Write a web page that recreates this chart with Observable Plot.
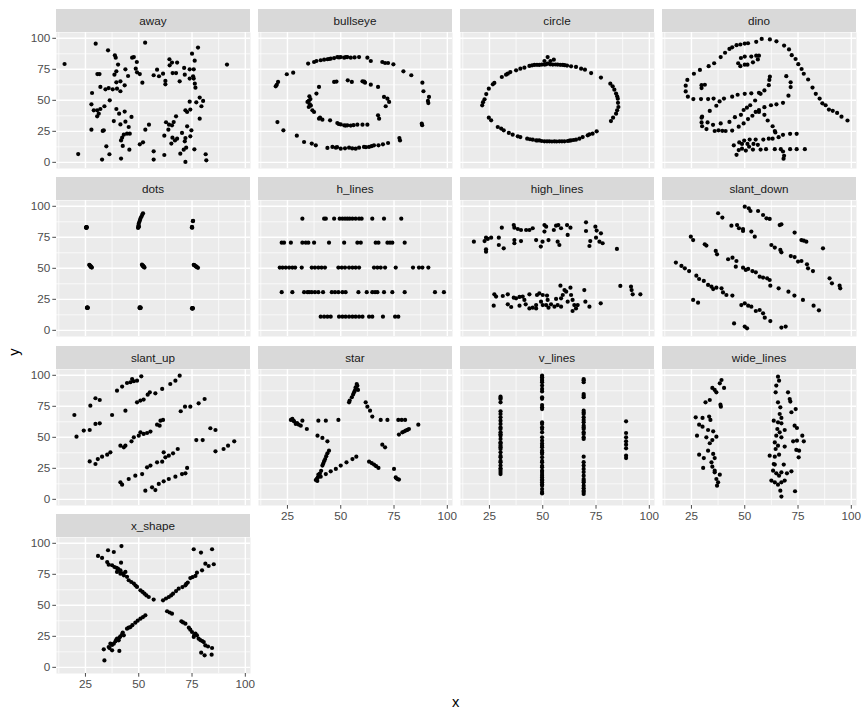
<!DOCTYPE html>
<html><head><meta charset="utf-8">
<script src="https://cdn.jsdelivr.net/npm/d3@7"></script>
<script src="https://cdn.jsdelivr.net/npm/@observablehq/plot@0.6"></script>
<style>
body{margin:0;background:#fff;font-family:"Liberation Sans",Arial,sans-serif;}
#chart{position:relative;width:864px;height:720px;background:#fff;}
.strip{position:absolute;background:#D9D9D9;color:#1A1A1A;font-size:11.7px;display:flex;align-items:center;justify-content:center;}
.panel{position:absolute;}
.title{position:absolute;font-size:14.7px;color:#000;}
</style></head><body><div id="chart"></div>
<script>
const datasetNames = ["away","bullseye","circle","dino","dots","h_lines","high_lines","slant_down","slant_up","star","v_lines","wide_lines","x_shape"];
const xTicks = [25,50,75,100];
const yTicks = [0,25,50,75,100];
const xMinor = [12.5,37.5,62.5,87.5];
const yMinor = [12.5,37.5,62.5,87.5];

const away = [[15.2,79.3],[29.8,95.7],[35.6,90.3],[53.0,96.5],[77.8,92.5],[75.0,87.6],[91.4,78.8],[38.8,86.3],[39.2,84.4],[46.9,84.4],[47.7,84.9],[40.3,78.8],[49.1,80.9],[43.75,75],[39.5,73.4],[38.6,70.7],[30.6,71.2],[31.6,71.2],[48.6,75.5],[49.2,72.6],[50.5,71.2],[45,69.6],[41.4,65.3],[39.5,64.5],[43.4,62.1],[51.7,64.2],[32.0,60.8],[34.4,58.9],[35.9,59.9],[37.8,58.9],[39.8,59.4],[41.4,57.3],[28.1,55.9],[36.4,50],[27.8,46.8],[33.9,45.2],[32.0,43.0],[30.5,41.9],[28.9,41.9],[31.25,39.2],[30.5,37.1],[39.5,43.0],[40.8,39.2],[43.4,40.9],[46.6,36.6],[38.3,33.3],[41.4,30.6],[43.75,32.8],[45.3,28.5],[27.8,26.3],[33.1,25.3],[33.6,25.8],[42.2,19.9],[43,22.3],[44.5,23.1],[45.8,23.1],[41.7,17.7],[34.8,12.9],[36.25,6.5],[32.8,2.2],[41.7,3.0],[21.6,6.7],[42.5,13.2],[45.6,10.2],[50.5,14.5],[52.0,16.1],[53.1,26.3],[54.8,30.4],[57.0,8.9],[57.0,2.2],[62.0,5.9],[62.8,32.3],[64.2,30.4],[65.6,29.8],[66.4,32.5],[63.9,26.3],[62.0,21.5],[67.5,37.1],[65.8,19.9],[67.0,17.7],[65.3,15.1],[69.5,7.0],[68.0,19.1],[71.9,19.6],[71.6,16.9],[72.25,11.8],[71.1,10.2],[72.7,29.0],[74.7,25.8],[74.2,21.0],[70.3,23.7],[76.1,10.5],[71.9,0.3],[81.4,6.5],[81.7,1.6],[78.6,35.2],[71.9,41.9],[72.7,40.6],[74.2,42.5],[73.9,48.9],[77.0,48.4],[78.6,52.2],[80.2,49.5],[79.4,45.2],[76.6,60.2],[76.3,63.4],[75.8,67.5],[73.9,75],[75.8,75],[75.5,69.4],[73.9,67.5],[71.6,70.7],[69.2,65.3],[65.9,72.0],[67.5,72.0],[71.3,76.1],[68.0,80.4],[64.4,83.1],[64.5,78.2],[65.6,80.4],[58.6,74.7],[59.5,69.4],[61.4,71.5],[62.5,65.6],[62.5,62.9],[57.0,70.2],[76.25,82.0]];

const bullseye = [[34.7,79.6],[37.5,80.9],[38.6,81.7],[40.6,82.3],[42.2,82.8],[43.75,83.1],[45.3,83.6],[46.9,84.1],[48.4,84.9],[50,84.9],[51.6,84.4],[53.1,84.9],[54.7,84.4],[58.6,84.9],[62.5,84.4],[64.1,81.7],[69.5,80.9],[70.8,80.1],[72.2,80.1],[74.7,79.0],[79.4,73.4],[83.1,70.2],[88.3,64.2],[88.8,57.3],[91.4,52.7],[91.1,47.8],[90.9,49.5],[88.0,31.2],[88.2,30.0],[77.5,19.6],[77.8,17.7],[27.7,72.3],[24.7,71.0],[20.6,64.8],[19.5,61.3],[20.0,62.5],[20.3,32.5],[23.1,25.8],[29.4,21.5],[32.8,16.4],[36.4,15.1],[38.3,13.7],[43.75,11.6],[46.1,12.4],[47.7,11.8],[48.3,12.2],[50,11.0],[52.0,11.3],[53.9,11.8],[57.0,11.0],[58.6,11.8],[60.9,12.4],[63.3,12.4],[65.6,13.7],[67.7,13.7],[69.8,14.5],[72.2,15.6],[46.9,64.8],[48.0,65.1],[53.3,66.1],[55.2,64.8],[60.2,65.3],[61.0,65.0],[61.4,64.2],[64.1,62.6],[67.5,60.8],[39.8,60.8],[38.6,55.4],[35.3,53.2],[34.4,48.7],[35.0,49.5],[35.5,46.8],[35.0,44.6],[36.7,41.9],[37.5,40.6],[39.8,35.2],[40.3,36.0],[41.4,34.4],[45.0,33.9],[48.4,31.7],[50,30.6],[51.6,29.8],[53.1,29.8],[54.7,29.6],[57.8,30.4],[60.2,30.4],[62.5,30.4],[67.5,37.9],[68.0,35.2],[71.1,45.2],[72.7,48.7],[71.9,51.3],[70.3,52.7],[49.2,84.6],[52.4,84.8],[56.5,84.6],[44.5,83.3],[55.4,11.2],[61.8,12.2],[64.5,13.0],[49.0,30.9],[52.3,29.6],[56.0,30.0],[36.0,45.8],[35.8,51.0]];

const circle = [[21.6,46.0],[22.0,48.5],[22.7,50.8],[23.5,55.0],[24.7,59.4],[26.6,62.9],[27.3,64.0],[30.8,68.8],[32.8,70.7],[33.6,71.5],[34.8,72.8],[37.5,74.2],[39.5,75.5],[41.4,76.3],[43.75,77.7],[45.0,78.2],[46.1,78.5],[47.3,78.6],[48.4,78.5],[49.6,78.8],[50.8,78.8],[51.5,79.0],[52.3,79.6],[53.5,79.0],[54.7,78.8],[56.0,78.9],[57.0,78.8],[58.2,78.6],[59.4,78.5],[60.3,78.3],[61.4,78.0],[63.3,77.4],[65.6,76.9],[68.0,75.5],[69.8,74.7],[72.7,72.0],[77.3,68.3],[81.7,63.4],[82.8,61.3],[83.6,58.6],[84.4,55.4],[84.9,53.2],[85.2,51.3],[85.3,48.0],[85.5,44.6],[84.9,41.9],[84.4,39.2],[83.0,36.0],[82.0,33.3],[75.3,25.0],[73.4,23.1],[71.9,22.6],[71.1,21.8],[68.75,20.4],[67.2,19.1],[65.6,18.3],[64.5,18.0],[63.3,17.7],[62.5,17.5],[61.7,17.2],[60.2,16.9],[59.0,16.9],[57.8,16.9],[56.5,16.8],[55.5,16.9],[54.3,16.8],[53.1,16.9],[52.0,16.9],[50.8,16.9],[49.5,17.2],[48.4,17.7],[47.5,17.6],[46.9,17.7],[45.3,18.3],[44.0,18.6],[42.7,19.1],[39.5,20.4],[38.3,21.0],[35.9,22.3],[34.1,23.7],[31.7,25.8],[30.5,27.2],[28.9,28.5],[25.8,33.9],[24.7,36.0],[52.3,84.9],[50.8,81.7],[55.2,82.8],[53.6,81.7]];

const dino = [[55.3846,97.1795],[51.5385,96.0256],[46.1538,94.4872],[42.8205,91.4103],[40.7692,88.3333],[38.7179,84.8718],[35.641,79.8718],[33.0769,77.5641],[28.9744,74.4872],[26.1538,71.4103],[23.0769,66.4103],[22.3077,61.7949],[22.3077,57.1795],[23.3333,52.9487],[25.8974,51.0256],[29.4872,51.0256],[32.8205,51.0256],[35.3846,51.4103],[40.2564,51.4103],[44.1026,52.9487],[46.6667,54.4872],[50.0,55.2564],[53.0769,55.641],[56.6667,56.0256],[59.2308,57.9487],[61.2821,62.1795],[61.5385,66.4103],[61.7949,69.1026],[57.4359,55.2564],[54.8718,49.8718],[52.5641,46.0256],[48.2051,38.3333],[49.4872,42.1795],[51.0256,44.1026],[45.3846,36.4103],[42.8205,32.5641],[38.7179,31.4103],[35.1282,30.2564],[32.5641,32.1795],[30.0,36.7949],[33.5897,41.4103],[36.6667,45.641],[38.2051,49.1026],[29.7436,36.0256],[29.7436,32.1795],[30.0,29.1026],[32.0513,26.7949],[35.8974,25.2564],[41.0256,25.2564],[44.1026,25.641],[47.1795,28.718],[49.4872,31.4103],[51.5385,34.8718],[53.5897,37.5641],[55.1282,40.641],[56.6667,42.1795],[59.2308,44.4872],[62.3077,46.0256],[64.8718,46.7949],[67.9487,47.9487],[70.5128,53.718],[71.5385,60.641],[71.5385,64.4872],[69.4872,69.4872],[46.9231,79.8718],[48.2051,84.1026],[50.0,85.2564],[53.0769,85.2564],[55.3846,86.0256],[56.6667,86.0256],[56.1538,82.9487],[53.8462,80.641],[51.2821,78.718],[50.0,78.718],[47.9487,77.5641],[29.7436,59.8718],[29.7436,62.1795],[31.2821,62.5641],[57.9487,99.4872],[61.7949,99.1026],[64.8718,97.5641],[68.4615,94.1026],[70.7692,91.0256],[72.0513,86.4103],[73.8462,83.3333],[75.1282,79.1026],[76.6667,75.2564],[77.6923,71.4103],[79.7436,66.7949],[81.7949,60.2564],[83.3333,55.2564],[85.1282,51.4103],[86.4103,47.5641],[87.9487,46.0256],[89.4872,42.5641],[93.3333,39.8718],[95.3846,36.7949],[98.2051,33.718],[56.6667,40.641],[59.2308,38.3333],[60.7692,33.718],[63.0769,29.1026],[64.1026,25.2564],[64.359,24.1026],[74.359,22.9487],[71.2821,22.9487],[67.9487,22.1795],[65.8974,20.2564],[63.0769,19.1026],[61.2821,19.1026],[58.7179,18.3333],[55.1282,18.3333],[52.3077,18.3333],[49.7436,17.5641],[47.4359,16.0256],[44.8718,13.718],[48.7179,14.8718],[51.2821,14.8718],[54.1026,14.8718],[56.1538,14.1026],[52.0513,12.5641],[48.7179,11.0256],[47.1795,9.8718],[46.1538,6.0256],[50.5128,9.4872],[53.8462,10.2564],[57.4359,10.2564],[60.0,10.641],[64.1026,10.641],[66.9231,10.641],[71.2821,10.641],[74.359,10.641],[78.2051,10.641],[67.9487,8.718],[68.4615,5.2564],[68.2051,2.9487],[37.6923,25.7692],[39.4872,25.3846],[91.2821,41.5385],[50.0,95.7692],[47.9487,95.0],[44.1026,92.6923]];

const dots = [[25.4,82.9],[25.5,83.1],[25.3,82.8],[25.6,83.3],[25.5,82.6],[25.4,83.2],[26.8,52.8],[27.2,52.0],[27.5,51.5],[27.8,50.9],[27.0,52.4],[27.4,51.2],[28.0,50.6],[25.8,18.4],[26.0,18.1],[25.9,18.6],[26.1,18.2],[25.7,18.0],[49.8,83.2],[49.9,84.5],[50.0,86.0],[50.3,87.5],[50.6,89.0],[50.9,90.5],[51.3,91.8],[51.7,93.3],[52.0,94.4],[49.7,82.6],[50.1,83.5],[51.5,52.9],[51.8,52.3],[52.1,51.7],[52.4,51.1],[52.7,50.6],[51.9,52.0],[52.3,51.4],[50.4,18.5],[50.7,18.2],[50.9,18.0],[50.5,17.9],[50.8,18.6],[75.0,83.4],[75.1,82.8],[74.9,83.0],[75.5,88.3],[75.4,88.0],[75.8,52.8],[76.3,52.2],[76.8,51.6],[77.3,51.0],[77.8,50.4],[76.0,52.5],[77.0,51.3],[75.1,17.6],[75.3,18.0],[75.2,17.4],[75.4,17.8],[75.0,17.9]];

const h_lines = [[32.0,90],[42.2,90],[43.0,90],[46.9,90],[49.5,90],[50.8,90],[52.0,90],[53.1,90],[54.2,90],[55.5,90],[57.0,90],[58.6,90],[59.8,90],[64.8,90],[70.3,90],[78.4,90],
[22.3,70.7],[23.4,70.7],[26.6,70.7],[32.0,70.7],[33.6,70.7],[34.8,70.7],[37.5,70.7],[44.5,70.7],[51.6,70.7],[57.8,70.7],[59.4,70.7],[66.4,70.7],[67.7,70.7],[71.9,70.7],[73.1,70.7],[74.2,70.7],[80.0,70.7],
[21.4,50.6],[22.7,50.6],[24.2,50.6],[25.8,50.6],[27.3,50.6],[28.6,50.6],[31.7,50.6],[36.4,50.6],[37.9,50.6],[39.5,50.6],[41.0,50.6],[42.6,50.6],[48.9,50.6],[50.5,50.6],[52.0,50.6],[53.9,50.6],[55.5,50.6],[57.0,50.6],[58.6,50.6],[65.6,50.6],[67.2,50.6],[68.75,50.6],[70.8,50.6],[75.8,50.6],[83.9,50.6],[86.7,50.6],[88.3,50.6],[91.1,50.6],
[22.3,30.8],[27.3,30.8],[32.8,30.8],[34.4,30.8],[35.2,30.8],[36.4,30.8],[37.9,30.8],[39.5,30.8],[41.7,30.8],[45.8,30.8],[47.3,30.8],[48.9,30.8],[50.8,30.8],[52.3,30.8],[58.3,30.8],[62.2,30.8],[64.8,30.8],[66.1,30.8],[67.2,30.8],[70.3,30.8],[74.2,30.8],[80.0,30.8],[94.2,30.8],[98.4,30.8],
[40.6,11],[42.2,11],[43.75,11],[45.3,11],[49.2,11],[50.8,11],[52.3,11],[53.9,11],[55.5,11],[57.0,11],[58.6,11],[60.2,11],[63.3,11],[64.8,11],[69.8,11],[75.5,11],[77.0,11]];

const high_lines = [[17.7,71.5],[22.7,72.0],[23.4,74.7],[24.2,73.7],[25.8,74.7],[23.4,65.3],[23.4,63.4],[29.4,74.7],[29.4,68.8],[31.7,66.1],[30.8,82.8],[36.4,84.9],[36.7,82.8],[38.3,81.7],[39.8,80.9],[42.2,80.9],[43.75,80.9],[45.3,82.3],[36.7,72.8],[36.7,70.2],[39.8,72.0],[46.9,72.8],[49.1,67.5],[49.9,71.5],[50.8,84.9],[51.6,83.6],[50.8,79.6],[52.7,72.8],[55.2,80.9],[56.25,84.4],[57.3,84.9],[58.6,82.3],[61.4,84.9],[61.7,76.9],[63.0,82.8],[57.0,71.5],[57.8,68.8],[70.3,87.1],[70.3,80.1],[74.7,83.6],[75.3,80.4],[77.3,78.2],[75.0,74.7],[76.6,71.5],[78.1,70.2],[72.3,72.0],[71.9,68.0],[84.8,65.6],
[27.3,29.0],[28.1,27.2],[31.25,27.7],[33.6,29.0],[27.0,19.9],[33.6,21.0],[35.2,18.8],[36.4,26.3],[37.5,25.8],[39.1,26.9],[40.6,27.2],[39.1,19.9],[41.4,24.5],[43.75,29.0],[42.0,21.0],[45.3,18.3],[46.9,17.7],[47.3,28.5],[48.4,29.8],[50,28.5],[52.0,28.0],[49.2,23.1],[50,20.4],[51.6,20.4],[52.7,18.3],[53.9,21.0],[55.5,19.1],[57.0,20.4],[56.25,25.3],[58.6,25.8],[59.4,28.5],[61.0,31.2],[58.3,36.0],[60.2,32.5],[63.0,34.4],[63.3,28.5],[61.7,23.1],[58.6,19.1],[64.0,24.5],[64.8,20.4],[66.4,20.4],[64.0,15.6],[65.6,17.7],[69.5,32.5],[70.0,23.1],[71.9,19.1],[77.2,21.8],[86.4,35.8],[91.4,35.2],[92.2,29.0],[95.8,29.0],[91.7,32.5],[46.9,20.4],[52.3,24.5],[43.75,17.7]];

const slant_down = [[50,99.7],[51.9,98.4],[52.7,96.2],[56.25,96.2],[58.6,93.0],[60.2,90.3],[61.7,89.8],[66.4,84.9],[67.2,85.5],[73.4,78.8],[76.6,72.8],[77.7,72.3],[78.9,71.5],[86.7,66.1],
[37.5,94.4],[39.5,90.9],[43.75,84.4],[46.4,84.9],[47.3,82.3],[49.2,81.7],[49.2,80.1],[53.1,79.6],[54.7,75.5],[62.5,68.8],[64.1,66.7],[66.7,64.8],[67.2,62.9],[71.6,59.9],[73.4,59.1],[75.0,55.4],[76.6,55.9],[79.2,53.2],[79.7,50],[82.0,47.8],[89.8,41.9],[90.9,37.9],[94.5,36.0],[94.8,33.9],
[24.7,75.5],[25.8,72.8],[31.25,69.4],[32.0,68.3],[36.4,64.0],[37.0,61.3],[42.2,57.3],[44.25,58.6],[46.1,55.9],[45.8,51.3],[49.2,50.5],[50.5,48.7],[51.6,49.5],[53.6,47.8],[55.2,46.8],[57.0,43.3],[58.6,42.5],[60.5,41.9],[61.7,40.6],[62.0,36.0],[65.9,33.9],[70.5,31.2],[73.3,28.0],[77.3,24.5],[82.3,19.9],[84.8,16.1],
[17.7,54.6],[20.3,51.9],[21.9,50],[23.9,47.8],[27.3,44.1],[28.6,41.4],[30.8,39.8],[32.8,36.6],[34.4,35.2],[35.2,33.3],[36.7,34.4],[39.1,33.9],[39.8,30.6],[41.4,28.5],[44.2,28.0],[48.4,20.4],[50,21.8],[51.6,19.9],[53.1,19.1],[55.2,15.6],[57.0,16.4],[58.6,13.7],[59.4,10.2],[62.0,7.5],[25.8,24.5],[28.1,22.3],
[45.0,5.6],[50,3.0],[51.1,1.6],[67.2,2.2],[69.2,3.0]];

const slant_up = [[39.8,87.6],[42.2,90.9],[44.5,93.8],[46.9,97.0],[47.7,95.2],[49.2,95.7],[51.2,99.2],[46.1,94.4],
[27.3,75.5],[29.7,81.5],[31.7,80.1],[37.5,68.0],[43.75,71.5],[49.2,78.2],[50.8,79.6],[54.2,84.4],[55.2,86.3],[57.8,85.5],[61.0,89.0],[64.8,93.0],[67.2,95.7],[69.2,99.7],[52.3,80.4],
[19.8,68.0],[20.8,50.5],[24.2,55.4],[27.0,55.9],[29.7,60.8],[31.7,61.3],[69.7,71.0],[71.7,74.7],[74.2,74.7],[78.1,77.4],[80.9,80.9],[58.6,60.2],[60.2,63.4],[61.4,64.0],[59.8,59.4],[55.5,54.6],[52.3,52.7],[50,51.3],[47.7,50],[46.6,46.8],[43.75,43.3],[41.4,43.3],[43.0,41.9],[50.8,54.0],[53.9,53.5],
[27.0,30.6],[29.7,28.5],[30.8,32.5],[32.8,34.4],[35.2,36.0],[36.7,37.9],[77.0,47.8],[80.0,47.8],[83.6,57.3],[86.0,55.9],[86.0,38.7],[89.8,40.6],[91.9,43.3],[94.8,46.8],[61.7,37.9],[64.1,35.2],[66.1,37.1],[68.3,40.6],
[41.4,13.7],[45.3,16.4],[48.4,19.1],[51.6,20.4],[53.9,25.8],[55.5,27.2],[58.6,29.8],[61.0,30.4],[62.5,33.9],[42.2,11.8],
[53.1,7.0],[56.25,9.7],[57.8,7.5],[59.4,12.4],[61.7,14.5],[64.1,16.4],[67.2,18.3],[70.3,20.4],[72.7,25.3],[71.9,21.0]];

const star = [[57.5,93.0],[57.8,91.5],[57.0,90.3],[58.1,88.2],[56.7,88.0],[56.25,86.3],[55.8,84.5],[55.2,82.3],[53.9,78.2],[54.2,79.6],[61.7,78.2],[62.5,74.7],[63.75,71.5],[64.8,66.7],[68.75,64.0],[71.9,64.0],[77.0,64.0],[78.6,64.0],[80.2,64.0],[86.4,60.2],[82.0,56.7],[81.3,56.0],[80.5,55.4],[79.7,54.7],[78.9,54.0],[77.3,52.2],[69.5,44.1],[70.8,41.9],[63.3,30.4],[64.5,29.2],[65.6,28.0],[66.6,26.7],[67.7,25.3],[75.0,24.5],[75.8,17.7],[76.2,16.8],[76.8,16.2],[77.3,15.9],[57.3,34.4],[55.5,32.5],[52.7,29.8],[50,27.2],[47.7,24.5],[45.3,22.6],[43.0,20.4],[40.6,18.3],[38.3,15.6],[38.8,16.5],[39.2,17.5],[40.0,18.8],[39.0,14.8],[39.5,19.9],[40.2,20.8],[40.8,23.0],[41.4,27.2],[41.8,28.8],[42.2,30.8],[42.7,32.5],[43.2,34.8],[43.75,37.1],[44.5,39.2],[26.6,64.0],[27.8,63.5],[28.1,62.9],[29.5,61.5],[30.2,60.3],[28.9,60.8],[32.0,63.4],[31.25,59.4],[34.1,56.7],[39.1,51.3],[41.4,49.5],[43.75,46.8],[39.5,63.4],[43.0,63.4],[48.9,64.0],[27.3,64.8]];

const v_lines = [[30.2,82.8],[30.2,81.8],[30.2,80.9],[30.2,78.2],[30.2,71.0],[30.2,68.8],[30.2,66.1],[30.2,63.4],[30.2,60.8],[30.2,58.0],[30.2,56.7],[30.2,54.0],[30.2,52.5],[30.2,51.3],[30.2,48.7],[30.2,46.0],[30.2,45.0],[30.2,43.3],[30.2,42.0],[30.2,40.6],[30.2,37.9],[30.2,35.0],[30.2,33.9],[30.2,31.0],[30.2,29.8],[30.2,27.2],[30.2,25.0],[30.2,23.7],[30.2,22.0],[30.2,20.4],
[49.7,99.7],[49.7,98.5],[49.7,97.0],[49.7,95.7],[49.7,94.4],[49.7,91.7],[49.7,89.0],[49.7,87.0],[49.7,82.3],[49.7,81.0],[49.7,76.0],[49.7,74.2],[49.7,72.8],[49.7,62.0],[49.7,60.8],[49.7,58.1],[49.7,56.7],[49.7,54.0],[49.7,50.0],[49.7,47.3],[49.7,45.0],[49.7,43.3],[49.7,41.9],[49.7,39.2],[49.7,38.0],[49.7,36.6],[49.7,33.9],[49.7,31.0],[49.7,29.8],[49.7,27.0],[49.7,25.8],[49.7,23.1],[49.7,22.0],[49.7,20.4],[49.7,19.0],[49.7,17.7],[49.7,16.0],[49.7,15.1],[49.7,13.7],[49.7,12.0],[49.7,11.0],[49.7,8.3],[49.7,6.0],[49.7,4.8],
[69.2,97.0],[69.2,96.0],[69.2,94.4],[69.2,84.9],[69.2,83.5],[69.2,82.3],[69.2,71.5],[69.2,70.0],[69.2,68.8],[69.2,66.1],[69.2,64.0],[69.2,62.1],[69.2,59.4],[69.2,58.0],[69.2,56.7],[69.2,54.0],[69.2,52.7],[69.2,50.0],[69.2,48.7],[69.2,34.4],[69.2,30.0],[69.2,27.2],[69.2,24.5],[69.2,22.0],[69.2,19.1],[69.2,16.4],[69.2,15.0],[69.2,13.7],[69.2,11.0],[69.2,9.0],[69.2,7.0],[69.2,6.0],[69.2,4.3],
[89.1,62.9],[89.1,53.5],[89.1,50.0],[89.1,46.8],[89.1,44.1],[89.1,41.1],[89.1,35.2],[89.1,33.3]];

const wide_lines = [[39.1,96.2],[38.3,93.5],[40.3,89.8],[34.8,89.8],[36.7,86.3],[35.9,88.2],[33.6,80.1],[31.6,78.2],[38.6,76.3],[38.8,74.7],[27.0,66.1],[30.2,65.6],[33.3,66.7],[33.9,64.0],[28.6,60.2],[30.2,58.6],[27.6,51.3],[32.8,55.9],[35.2,54.8],[36.7,50.5],[32.0,50.0],[34.8,47.8],[33.6,45.2],[32.8,39.2],[28.6,36.0],[30.8,33.3],[35.2,36.6],[35.9,33.3],[34.4,29.8],[34.8,26.3],[30.5,25.3],[35.9,23.1],[38.3,19.9],[36.7,16.4],[37.0,11.0],[37.5,13.7],[35.9,21.8],
[65.6,98.9],[66.1,95.7],[64.8,91.7],[64.5,86.3],[70.3,86.3],[71.1,80.9],[71.4,78.8],[65.6,78.2],[66.7,74.2],[73.9,72.8],[71.9,70.2],[66.4,68.8],[67.2,65.6],[63.6,63.4],[65.6,62.1],[67.2,61.3],[73.4,59.4],[74.5,57.5],[65.3,56.7],[68.75,55.9],[66.4,54.0],[67.2,50.0],[64.8,51.3],[72.7,46.8],[74.5,47.3],[77.0,51.3],[77.7,46.8],[64.1,45.9],[65.6,43.3],[68.75,42.5],[74.2,39.8],[75.5,39.2],[64.5,40.6],[61.7,35.2],[64.1,34.4],[66.1,36.0],[75.3,33.9],[64.1,28.0],[68.3,28.0],[63.3,23.1],[64.8,21.0],[66.1,19.1],[67.2,21.8],[69.8,21.0],[71.9,22.6],[62.5,15.1],[64.1,13.7],[65.6,11.8],[67.2,13.7],[68.75,15.1],[66.7,7.0],[67.2,2.2],[73.6,6.5],[63.6,28.5]];

const x_shape = [[30.9,89.8],[32.8,88.2],[35.2,84.9],[35.9,82.8],[37.5,82.3],[38.6,80.9],[39.5,80.3],[40.2,79.6],[40.5,78.8],[41.4,78.2],[43.75,76.9],[41.7,84.4],[42.5,75.8],[43.0,74.2],[44.5,73.0],[45.3,70.2],[46.5,68.8],[47.7,67.5],[48.5,66.0],[49.2,64.8],[50.8,62.1],[51.8,60.8],[52.7,59.4],[53.6,58.0],[54.7,56.7],[57.0,54.6],[35.6,94.4],[38.3,93.0],[41.9,97.8],[39.8,76.9],[41.4,75.5],
[61.4,54.0],[62.8,55.5],[64.1,56.7],[65.2,58.0],[66.1,59.4],[67.5,61.5],[68.75,63.4],[70.5,64.7],[71.9,66.1],[72.3,67.3],[73.0,68.3],[74.2,72.0],[75.3,72.8],[76.6,73.7],[77.3,76.3],[79.7,78.2],[81.25,83.6],[82.8,81.7],[85.2,83.1],[75.8,95.2],[79.2,92.5],[84.4,95.2],
[63.3,45.2],[64.5,44.2],[65.6,43.3],[70.0,37.1],[70.8,36.2],[71.9,35.2],[73.5,32.0],[74.2,30.4],[75.0,28.5],[76.0,26.0],[76.6,27.2],[75.8,24.5],[78.1,23.1],[78.9,22.0],[79.8,21.2],[80.5,20.4],[81.25,17.7],[82.5,16.8],[84.4,15.6],[79.3,11.8],[80.9,9.7],[84.2,10.2],[77.3,25.8],
[53.1,41.9],[52.0,40.5],[50.8,39.2],[49.5,37.6],[48.4,36.0],[47.0,34.0],[46.1,32.5],[45.3,32.0],[44.5,31.2],[42.5,28.0],[43.0,25.8],[41.4,25.0],[41.0,24.0],[39.8,23.1],[39.4,22.0],[39.1,21.0],[36.7,19.1],[38.3,19.1],[37.5,18.0],[35.9,16.4],[36.3,15.5],[33.6,14.5],[37.5,13.7],[40.9,13.2],[33.9,5.6],[42.2,26.6],[40.6,21.8]];

const datasets = {away, bullseye, circle, dino, dots, h_lines, high_lines, slant_down, slant_up, star, v_lines, wide_lines, x_shape};

// layout (pixels)
const panelW = 194, panelH = 136, stripH = 23;
const colLeft = [56, 258, 460, 662];
const rowTop = [32, 200.3, 368.6, 537];
const xDomain = [11.42, 102.43];
const yDomain = [-4.97, 104.68];
const font = "'Liberation Sans', Arial, sans-serif";

const chart = document.getElementById("chart");

datasetNames.forEach((name, i) => {
  const col = i % 4, row = Math.floor(i / 4);
  const isLeft = col === 0;
  const isBottom = row === 3 || (row === 2 && col > 0);
  const ml = isLeft ? 56 : 0;
  const mb = isBottom ? 22 : 0;

  const strip = document.createElement("div");
  strip.className = "strip";
  strip.style.left = colLeft[col] + "px";
  strip.style.top = (rowTop[row] - stripH) + "px";
  strip.style.width = panelW + "px";
  strip.style.height = stripH + "px";
  strip.textContent = name;
  chart.appendChild(strip);

  const marks = [
    Plot.frame({fill: "#EBEBEB", stroke: null}),
    Plot.ruleX(xMinor, {stroke: "#FFFFFF", strokeWidth: 0.7}),
    Plot.ruleY(yMinor, {stroke: "#FFFFFF", strokeWidth: 0.7}),
    Plot.ruleX(xTicks, {stroke: "#FFFFFF", strokeWidth: 1.4}),
    Plot.ruleY(yTicks, {stroke: "#FFFFFF", strokeWidth: 1.4})
  ];
  if (isLeft) marks.push(Plot.axisY(yTicks, {tickSize: 3.7, tickPadding: 2.5, fontSize: 11.7, label: null}));
  if (isBottom) marks.push(Plot.axisX(xTicks, {tickSize: 3.7, tickPadding: 2.5, fontSize: 11.7, label: null}));
  marks.push(Plot.dot(datasets[name], {x: d => d[0], y: d => d[1], r: 2.1, fill: "#000000", stroke: null}));

  const svg = Plot.plot({
    width: panelW + ml,
    height: panelH + mb,
    marginLeft: ml, marginRight: 0, marginTop: 0, marginBottom: mb,
    x: {domain: xDomain, axis: null},
    y: {domain: yDomain, axis: null},
    style: {fontFamily: font, fontSize: "11.7px", color: "#4D4D4D", background: "transparent", overflow: "visible"},
    marks
  });
  svg.classList.add("panel");
  svg.style.position = "absolute";
  svg.style.left = (colLeft[col] - ml) + "px";
  svg.style.top = rowTop[row] + "px";
  chart.appendChild(svg);
});

const xt = document.createElement("div");
xt.className = "title"; xt.textContent = "x";
xt.style.left = "452px"; xt.style.top = "694px";
chart.appendChild(xt);
const yt = document.createElement("div");
yt.className = "title"; yt.textContent = "y";
yt.style.left = "10px"; yt.style.top = "344px"; yt.style.transform = "rotate(-90deg)";
chart.appendChild(yt);
</script></body></html>
